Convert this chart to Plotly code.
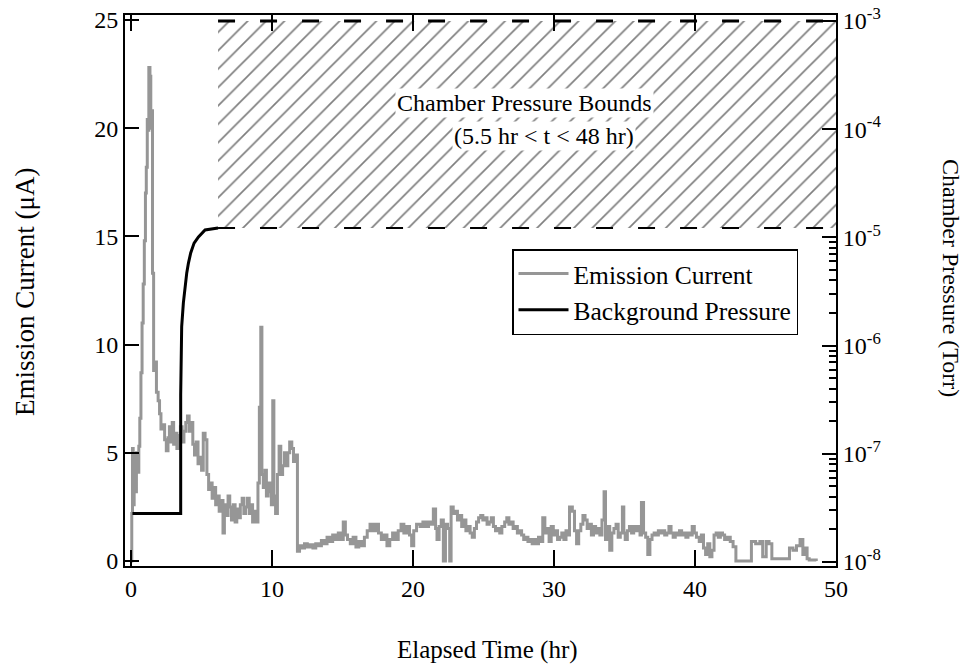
import plotly.graph_objects as go

# ---------------- data ----------------
time_hr = [
    0.0, 0.05, 0.1, 0.15, 0.22, 0.3, 0.38, 0.46, 0.55, 0.62, 0.7, 0.78, 0.86, 0.94, 1.02, 1.08,
    1.15, 1.2, 1.26, 1.34, 1.4, 1.46, 1.52, 1.6, 1.7, 1.8, 1.92, 2.02, 2.12, 2.25, 2.38, 2.5,
    2.62, 2.72, 2.82, 2.92, 3.02, 3.12, 3.25, 3.38, 3.5, 3.62, 3.75, 3.88, 4.0, 4.12, 4.25, 4.38,
    4.5, 4.62, 4.75, 4.88, 5.0, 5.12, 5.25, 5.38, 5.5, 5.62, 5.75, 5.88, 6.0, 6.12, 6.25, 6.4,
    6.52, 6.62, 6.75, 6.88, 7.0, 7.12, 7.25, 7.38, 7.5, 7.62, 7.75, 7.88, 8.0, 8.12, 8.25, 8.38,
    8.5, 8.62, 8.75, 8.9, 9.0, 9.1, 9.2, 9.28, 9.38, 9.5, 9.6, 9.72, 9.85, 9.95, 10.05, 10.13,
    10.25, 10.38, 10.5, 10.62, 10.75, 10.88, 11.0, 11.12, 11.25, 11.4, 11.52, 11.62, 11.8, 11.95,
    12.1, 12.3, 12.5, 12.7, 12.9, 13.1, 13.3, 13.5, 13.7, 13.9, 14.1, 14.3, 14.5, 14.7, 14.9, 15.05,
    15.2, 15.35, 15.55, 15.75, 15.95, 16.15, 16.35, 16.55, 16.75, 16.95, 17.15, 17.35, 17.55, 17.75,
    17.95, 18.15, 18.35, 18.55, 18.75, 18.95, 19.15, 19.35, 19.55, 19.75, 19.9, 20.05, 20.25, 20.5,
    20.7, 20.9, 21.1, 21.3, 21.44, 21.6, 21.7, 21.85, 22.0, 22.15, 22.3, 22.45, 22.6, 22.7, 22.85,
    23.0, 23.15, 23.3, 23.45, 23.6, 23.75, 23.9, 24.05, 24.2, 24.35, 24.5, 24.65, 24.8, 24.95, 25.1,
    25.25, 25.4, 25.55, 25.7, 25.85, 26.0, 26.15, 26.3, 26.5, 26.65, 26.8, 26.95, 27.1, 27.25, 27.4,
    27.55, 27.7, 27.85, 28.0, 28.15, 28.3, 28.45, 28.6, 28.75, 28.9, 29.05, 29.2, 29.35, 29.5, 29.65,
    29.8, 29.95, 30.1, 30.25, 30.4, 30.55, 30.7, 30.85, 31.0, 31.1, 31.3, 31.45, 31.6, 31.75, 31.9,
    32.05, 32.2, 32.35, 32.5, 32.65, 32.8, 32.95, 33.1, 33.25, 33.4, 33.55, 33.65, 33.8, 33.95, 34.1,
    34.25, 34.4, 34.55, 34.7, 34.85, 34.95, 35.05, 35.2, 35.35, 35.5, 35.65, 35.8, 35.95, 36.1, 36.2,
    36.35, 36.5, 36.65, 36.8, 36.95, 37.1, 37.25, 37.4, 37.55, 37.7, 37.85, 38.0, 38.15, 38.3, 38.45,
    38.6, 38.75, 38.9, 39.05, 39.2, 39.35, 39.5, 39.65, 39.8, 39.95, 40.1, 40.3, 40.45, 40.6, 40.75,
    40.9, 41.05, 41.2, 41.35, 41.5, 41.65, 41.8, 41.95, 42.1, 42.3, 42.5, 42.7, 42.9, 43.3, 43.7,
    44.0, 44.3, 44.6, 44.8, 45.05, 45.25, 45.45, 45.9, 46.3, 46.7, 46.95, 47.2, 47.45, 47.65, 47.8,
    47.95, 48.1, 48.6,
]
current_uA = [
    0.0, 2.2, 5.2, 2.6, 4.9, 3.2, 5.0, 4.1, 5.3, 6.6, 8.7, 11.0, 12.8, 14.8, 17.0, 18.2,
    20.4, 19.9, 22.8, 22.4, 20.0, 20.8, 13.3, 8.8, 9.2, 7.8, 7.4, 6.8, 6.1, 6.3, 5.6, 5.1,
    5.7, 6.2, 5.5, 6.4, 5.4, 5.9, 5.2, 5.8, 6.2, 5.5, 6.0, 6.4, 6.7, 6.0, 6.4, 5.4,
    4.9, 5.5, 4.5, 4.8, 4.2, 5.9, 5.6, 4.0, 3.3, 3.6, 2.9, 3.4, 2.6, 3.0, 2.3, 2.8,
    1.3, 2.6, 2.1, 3.0, 2.5, 1.9, 2.6, 1.8, 2.4, 2.0, 2.6, 2.9, 2.2, 2.5, 2.9, 2.2,
    2.6, 1.8, 2.3, 1.8, 3.6, 7.1, 10.8, 4.0, 3.4, 4.2, 3.0, 3.6, 3.2, 2.6, 7.4, 3.0,
    2.2, 4.0, 5.3, 4.0, 4.4, 5.0, 4.4, 5.0, 5.5, 5.2, 4.6, 4.9, 0.45, 0.7,
    0.6, 0.8, 0.65, 0.75, 0.6, 0.8, 0.7, 0.95, 0.8, 1.1, 0.9, 1.2, 1.0, 1.3, 1.0, 1.8,
    1.2, 1.0, 0.8, 1.1, 0.65, 0.9, 0.7, 1.1, 1.4, 1.7, 1.4, 1.7, 1.3, 1.0,
    1.2, 0.7, 1.0, 1.3, 1.0, 1.4, 1.7, 1.3, 1.6, 1.2, 0.7, 1.4, 1.7, 1.6,
    1.8, 1.6, 1.8, 1.7, 2.4, 1.5, 1.0, 1.6, 1.9, 0.0, 1.7, 1.5, 0.0, 2.5, 2.2,
    2.3, 1.9, 2.1, 1.6, 1.9, 1.4, 1.6, 1.3, 1.1, 1.5, 1.8, 2.0, 2.1, 1.9, 2.0,
    1.7, 1.8, 2.0, 1.6, 1.4, 1.5, 1.3, 1.6, 1.8, 2.0, 1.7, 1.8, 1.5, 1.6, 1.3,
    1.4, 1.2, 1.0, 1.1, 0.9, 1.0, 0.8, 1.0, 0.8, 1.1, 0.9, 2.0, 1.3, 1.5, 0.9,
    1.6, 1.2, 1.4, 1.0, 1.1, 1.3, 1.0, 1.4, 1.2, 2.5, 2.3, 1.4, 0.8, 1.4, 1.7,
    2.1, 1.9, 1.5, 1.7, 1.2, 1.6, 1.3, 1.5, 1.2, 1.9, 3.2, 1.0, 1.6, 0.5, 1.3,
    1.5, 1.7, 1.1, 1.3, 2.5, 1.3, 1.0, 1.4, 1.6, 1.3, 1.6, 1.4, 1.6, 1.2, 2.7,
    1.3, 1.1, 0.3, 1.0, 1.2, 1.3, 1.2, 1.4, 1.3, 1.4, 1.2, 1.3, 1.6, 1.3, 1.1,
    1.3, 1.2, 1.4, 1.2, 1.3, 1.1, 1.3, 1.2, 1.6, 1.3, 1.1, 0.9, 1.2, 0.6, 0.3,
    0.8, 0.2, 0.5, 1.2, 1.3, 1.1, 1.3, 1.2, 1.0, 1.1, 0.9, 0.66, 0.0, 0.0, 0.0,
    0.9, 0.8, 0.9, 0.2, 0.9, 0.8, 0.1, 0.1, 0.1, 0.6, 0.5, 0.7, 1.0, 0.3, 0.6,
    0.1, 0.05, 0.0,
]

pressure_time_hr = [0.1, 3.52, 3.52, 3.59, 3.71, 3.83, 3.95, 4.07, 4.23, 4.47, 4.78, 5.25, 6.17]
pressure_torr = [2.8e-8, 2.8e-8, 3.5e-7, 1.5e-6, 2.48e-6, 3.5e-6, 4.69e-6, 5.79e-6, 7.18e-6,
                 8.85e-6, 1.01e-5, 1.17e-5, 1.22e-5]

bounds_time_hr = [6.17, 50.0]
bounds_torr = [1.22e-5, 1.0e-3]

x_ticks = [0, 10, 20, 30, 40, 50]
y_ticks = [0, 5, 10, 15, 20, 25]
p_ticks = [1e-8, 1e-7, 1e-6, 1e-5, 1e-4, 1e-3]
p_ticktext = ["10<sup>-8</sup>", "10<sup>-7</sup>", "10<sup>-6</sup>", "10<sup>-5</sup>",
              "10<sup>-4</sup>", "10<sup>-3</sup>"]
p_minor = [m * 10.0 ** e for e in (-8, -7, -6) for m in range(2, 10)]

FONT = "Liberation Serif, Times New Roman, serif"

W, H = 966, 664
PX0, PY0 = 125, 15          # plot-area top-left
PW, PH = 711, 551           # plot-area size


def px(x):
    return (x - PX0) / PW


def py(y):
    return 1 - (y - PY0) / PH


fig = go.Figure()

# hatched pressure-bounds region
fig.add_trace(go.Scatter(
    x=[bounds_time_hr[0], bounds_time_hr[1], bounds_time_hr[1], bounds_time_hr[0], bounds_time_hr[0]],
    y=[bounds_torr[0], bounds_torr[0], bounds_torr[1], bounds_torr[1], bounds_torr[0]],
    yaxis="y2", mode="lines", line=dict(width=0), fill="toself",
    fillcolor="white",
    fillpattern=dict(shape="/", fgcolor="black", bgcolor="white", size=13, solidity=0.13),
    showlegend=False, hoverinfo="skip",
))
fig.add_trace(go.Scatter(
    x=bounds_time_hr, y=[bounds_torr[1], bounds_torr[1]], yaxis="y2", mode="lines",
    line=dict(color="black", width=3, dash="17px,25px"), showlegend=False, hoverinfo="skip",
))
fig.add_trace(go.Scatter(
    x=bounds_time_hr, y=[bounds_torr[0], bounds_torr[0]], yaxis="y2", mode="lines",
    line=dict(color="black", width=2, dash="17px,25px"), showlegend=False, hoverinfo="skip",
))

fig.add_trace(go.Scatter(
    x=time_hr, y=current_uA, mode="lines", name="Emission Current",
    line=dict(color="rgb(150,150,150)", width=3, shape="hv"),
))
fig.add_trace(go.Scatter(
    x=pressure_time_hr, y=pressure_torr, yaxis="y2", mode="lines", name="Background Pressure",
    line=dict(color="black", width=3),
))

axis_font = dict(family=FONT, size=24, color="black")

fig.update_layout(
    width=W, height=H,
    margin=dict(l=PX0, r=W - PX0 - PW, t=PY0, b=H - PY0 - PH, autoexpand=False),
    paper_bgcolor="white", plot_bgcolor="white",
    font=dict(family=FONT, size=24, color="black"),
    showlegend=True,
    legend=dict(x=px(512), y=py(249), xanchor="left", yanchor="top",
                bordercolor="black", borderwidth=1.5, bgcolor="white",
                font=dict(family=FONT, size=25.5, color="black"),
                tracegroupgap=0, itemwidth=50),
    xaxis=dict(range=[-0.43, 50], tickvals=x_ticks, ticks="inside", ticklen=16, tickwidth=1.5,
               tickcolor="black", showline=True, linecolor="black", linewidth=2, mirror="ticks",
               showgrid=False, zeroline=False, tickfont=axis_font, automargin=False,
               ticklabeloverflow="allow"),
    yaxis=dict(range=[-0.23, 25.23], tickvals=y_ticks, ticks="inside", ticklen=14, tickwidth=1.5,
               tickcolor="black", showline=True, linecolor="black", linewidth=2, mirror=True,
               showgrid=False, zeroline=False, tickfont=axis_font, automargin=False,
               ticklabeloverflow="allow"),
    yaxis2=dict(type="log", range=[-8.037, -2.945], overlaying="y", side="right",
                tickvals=p_ticks, ticktext=p_ticktext, ticks="inside", ticklen=14, tickwidth=1.5,
                tickcolor="black", showline=True, linecolor="black", linewidth=2,
                showgrid=False, zeroline=False, tickfont=axis_font, automargin=False,
                ticklabeloverflow="allow",
                minor=dict(tickmode="array", tickvals=p_minor, ticks="inside", ticklen=7,
                           tickwidth=1.5, tickcolor="black", showgrid=False)),
    annotations=[
        dict(text="Chamber Pressure Bounds", xref="paper", yref="paper",
             x=px(524), y=py(103), xanchor="center", yanchor="middle", showarrow=False,
             font=dict(family=FONT, size=24, color="black"), bgcolor="white", borderpad=1),
        dict(text="(5.5 hr < t < 48 hr)", xref="paper", yref="paper",
             x=px(544), y=py(136), xanchor="center", yanchor="middle", showarrow=False,
             font=dict(family=FONT, size=24, color="black"), bgcolor="white", borderpad=1),
        dict(text="Emission Current (μA)", xref="paper", yref="paper",
             x=px(25), y=py(292), xanchor="center", yanchor="middle", textangle=-90,
             showarrow=False, font=dict(family=FONT, size=27, color="black")),
        dict(text="Chamber Pressure (Torr)", xref="paper", yref="paper",
             x=px(951), y=py(278), xanchor="center", yanchor="middle", textangle=90,
             showarrow=False, font=dict(family=FONT, size=24, color="black")),
        dict(text="Elapsed Time (hr)", xref="paper", yref="paper",
             x=px(487), y=py(650), xanchor="center", yanchor="middle", showarrow=False,
             font=dict(family=FONT, size=25, color="black")),
    ],
)

# remove the browser's default 8px page margin so the figure fills the window exactly
fig.write_html("out.html", config={"displayModeBar": False},
               post_script="document.body.style.margin='0px';")
